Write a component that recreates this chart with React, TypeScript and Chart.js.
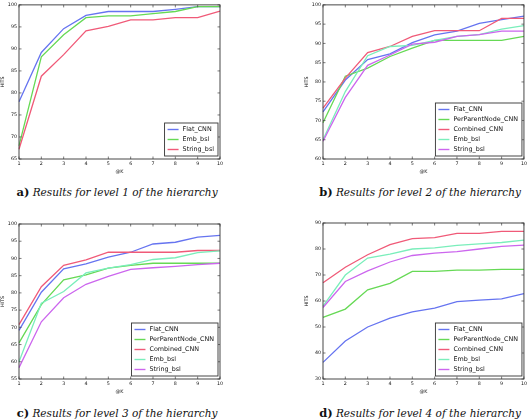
import React, { useEffect, useRef } from "react";
import { Chart, registerables } from "chart.js";
Chart.register(...registerables);

const kValues = ["1", "2", "3", "4", "5", "6", "7", "8", "9", "10"];

// Level 1
const l1Flat = [78.0, 89.2, 94.6, 97.6, 98.5, 98.5, 98.5, 99.0, 99.6, 99.6];
const l1Emb = [68.0, 88.2, 93.2, 97.1, 97.5, 97.5, 98.0, 98.5, 99.6, 99.6];
const l1Str = [67.2, 83.8, 88.7, 94.1, 95.1, 96.6, 96.6, 97.1, 97.1, 98.6];

// Level 2
const l2Flat = [72.2, 80.5, 85.8, 87.3, 90.2, 92.2, 93.2, 95.2, 96.2, 97.1];
const l2Ppn = [69.4, 81.5, 83.6, 86.6, 88.8, 90.8, 90.8, 90.8, 90.8, 91.8];
const l2Comb = [73.2, 81.0, 87.6, 89.2, 91.8, 93.3, 93.3, 93.3, 96.5, 96.5];
const l2Emb = [65.0, 77.5, 86.8, 89.2, 89.5, 90.8, 91.8, 92.3, 93.7, 94.6];
const l2Str = [64.6, 76.0, 84.3, 87.0, 89.8, 90.3, 91.8, 92.3, 93.2, 93.2];

// Level 3
const l3Flat = [69.1, 80.2, 87.0, 88.4, 90.4, 91.8, 94.2, 94.7, 96.2, 96.7];
const l3Ppn = [65.5, 76.6, 83.8, 85.2, 87.2, 88.0, 88.6, 88.6, 88.6, 88.6];
const l3Comb = [70.8, 81.8, 88.0, 89.6, 91.8, 91.8, 91.8, 91.8, 92.3, 92.3];
const l3Emb = [60.0, 77.0, 80.4, 85.8, 87.2, 88.2, 89.7, 90.2, 91.7, 92.2];
const l3Str = [58.3, 71.6, 78.6, 82.5, 84.8, 86.8, 87.3, 87.7, 88.2, 88.6];

// Level 4
const l4Flat = [36.4, 44.6, 50.0, 53.4, 55.8, 57.3, 59.8, 60.3, 60.8, 62.8];
const l4Ppn = [53.7, 56.9, 64.3, 66.8, 71.4, 71.4, 71.9, 71.9, 72.2, 72.2];
const l4Comb = [67.0, 73.0, 77.8, 81.7, 84.0, 84.4, 86.0, 86.0, 86.8, 86.8];
const l4Emb = [58.0, 70.0, 76.5, 78.0, 80.0, 80.4, 81.4, 82.0, 82.5, 83.4];
const l4Str = [57.5, 67.5, 71.6, 75.0, 77.5, 78.4, 79.0, 80.0, 81.0, 81.5];

const C_FLAT = "#6674f0";
const C_PPN = "#66d955";
const C_COMB = "#f05a78";
const C_EMB = "#7aeebb";
const C_STR = "#cc66ee";

type Series = { label: string; color: string; data: number[] };

type Panel = {
  letter: string;
  level: string;
  series: Series[];
  yMin: number;
  yMax: number;
  yStep: number;
  left: number;
  top: number;
  width: number;
  height: number;
  padLeft: number;
  padTop: number;
  plotBottom: number;
  captionCx: number;
  captionCy: number;
};

const FONT = "'DejaVu Sans', sans-serif";

const panels: Panel[] = [
  {
    letter: "a)", level: "1",
    series: [
      { label: "Flat_CNN", color: C_FLAT, data: l1Flat },
      { label: "Emb_bsl", color: C_PPN, data: l1Emb },
      { label: "String_bsl", color: C_COMB, data: l1Str },
    ],
    yMin: 65, yMax: 100, yStep: 5,
    left: 0, top: 0, width: 264, height: 176, padLeft: 0, padTop: 3, plotBottom: 159,
    captionCx: 117, captionCy: 192,
  },
  {
    letter: "b)", level: "2",
    series: [
      { label: "Flat_CNN", color: C_FLAT, data: l2Flat },
      { label: "PerParentNode_CNN", color: C_PPN, data: l2Ppn },
      { label: "Combined_CNN", color: C_COMB, data: l2Comb },
      { label: "Emb_bsl", color: C_EMB, data: l2Emb },
      { label: "String_bsl", color: C_STR, data: l2Str },
    ],
    yMin: 60, yMax: 100, yStep: 5,
    left: 264, top: 0, width: 265, height: 176, padLeft: 40, padTop: 3, plotBottom: 159,
    captionCx: 420, captionCy: 192,
  },
  {
    letter: "c)", level: "3",
    series: [
      { label: "Flat_CNN", color: C_FLAT, data: l3Flat },
      { label: "PerParentNode_CNN", color: C_PPN, data: l3Ppn },
      { label: "Combined_CNN", color: C_COMB, data: l3Comb },
      { label: "Emb_bsl", color: C_EMB, data: l3Emb },
      { label: "String_bsl", color: C_STR, data: l3Str },
    ],
    yMin: 55, yMax: 100, yStep: 5,
    left: 0, top: 210, width: 264, height: 186, padLeft: 0, padTop: 14, plotBottom: 169,
    captionCx: 117, captionCy: 413,
  },
  {
    letter: "d)", level: "4",
    series: [
      { label: "Flat_CNN", color: C_FLAT, data: l4Flat },
      { label: "PerParentNode_CNN", color: C_PPN, data: l4Ppn },
      { label: "Combined_CNN", color: C_COMB, data: l4Comb },
      { label: "Emb_bsl", color: C_EMB, data: l4Emb },
      { label: "String_bsl", color: C_STR, data: l4Str },
    ],
    yMin: 30, yMax: 90, yStep: 10,
    left: 264, top: 210, width: 265, height: 186, padLeft: 40, padTop: 13, plotBottom: 169,
    captionCx: 420, captionCy: 413,
  },
];

const framePlugin = {
  id: "frameTicks",
  afterDraw(chart: any) {
    const { ctx, chartArea } = chart;
    const { left, right, top, bottom } = chartArea;
    ctx.save();
    ctx.strokeStyle = "#444";
    ctx.lineWidth = 0.7;
    const xs = chart.scales.x;
    const ys = chart.scales.y;
    const tl = 2.5;
    ctx.beginPath();
    xs.ticks.forEach((_t: any, i: number) => {
      const px = xs.getPixelForTick(i);
      ctx.moveTo(px, bottom);
      ctx.lineTo(px, bottom - tl);
      ctx.moveTo(px, top);
      ctx.lineTo(px, top + tl);
    });
    ys.ticks.forEach((_t: any, i: number) => {
      const py = ys.getPixelForTick(i);
      ctx.moveTo(left, py);
      ctx.lineTo(left + tl, py);
      ctx.moveTo(right, py);
      ctx.lineTo(right - tl, py);
    });
    ctx.stroke();
    ctx.lineWidth = 0.9;
    ctx.strokeStyle = "#333";
    ctx.strokeRect(left, top, right - left, bottom - top);

    // legend box
    const ds = chart.data.datasets;
    const fs = 6.4;
    ctx.font = `${fs}px ${FONT}`;
    let maxW = 0;
    ds.forEach((d: any) => {
      maxW = Math.max(maxW, ctx.measureText(d.label).width);
    });
    const rowH = 10;
    const pad = 3;
    const lineLen = 11;
    const gap = 4;
    const boxW = pad + lineLen + gap + maxW + 4;
    const boxH = ds.length * rowH + 3;
    const bx = right - 2 - boxW;
    const by = bottom - 3 - boxH;
    ctx.fillStyle = "#fff";
    ctx.fillRect(bx, by, boxW, boxH);
    ctx.strokeStyle = "#333";
    ctx.lineWidth = 0.9;
    ctx.strokeRect(bx, by, boxW, boxH);
    ctx.textBaseline = "middle";
    ctx.textAlign = "left";
    ds.forEach((d: any, i: number) => {
      const cy = by + 1.5 + rowH * (i + 0.5);
      ctx.strokeStyle = d.borderColor;
      ctx.lineWidth = 1.4;
      ctx.beginPath();
      ctx.moveTo(bx + pad, cy);
      ctx.lineTo(bx + pad + lineLen, cy);
      ctx.stroke();
      ctx.fillStyle = "#111";
      ctx.fillText(d.label, bx + pad + lineLen + gap, cy + 0.3);
    });
    ctx.restore();
  },
};

function PanelChart({ p }: { p: Panel }) {
  const ref = useRef<HTMLCanvasElement | null>(null);
  useEffect(() => {
    if (!ref.current) return;
    const chart = new Chart(ref.current, {
      type: "line",
      data: {
        labels: kValues,
        datasets: p.series.map((s, i) => ({
          label: s.label,
          data: s.data,
          borderColor: s.color,
          backgroundColor: s.color,
          borderWidth: 1.3,
          pointRadius: 0,
          tension: 0,
          fill: false,
          order: -i,
        })),
      },
      options: {
        animation: false,
        responsive: false,
        maintainAspectRatio: false,
        events: [],
        layout: {
          padding: { left: p.padLeft, right: p.width - p.padLeft - 19 - 201, top: p.padTop, bottom: 0 },
        },
        plugins: {
          legend: { display: false },
          tooltip: { enabled: false },
        },
        scales: {
          x: {
            offset: false,
            grid: { display: false, drawTicks: false },
            border: { display: false },
            ticks: {
              color: "#111",
              font: { size: 4.8, family: FONT },
              padding: 2,
              maxRotation: 0,
              autoSkip: false,
            },
            title: {
              display: true,
              text: "@K",
              color: "#111",
              font: { size: 4.8, family: FONT },
              padding: { top: 2, bottom: 1 },
            },
            afterFit: (s: any) => {
              s.height = p.height - p.plotBottom;
            },
          },
          y: {
            min: p.yMin,
            max: p.yMax,
            grid: { display: false, drawTicks: false },
            border: { display: false },
            ticks: {
              stepSize: p.yStep,
              color: "#111",
              font: { size: 4.8, family: FONT },
              padding: 2,
            },
            title: {
              display: true,
              text: "HITS",
              color: "#111",
              font: { size: 4.8, family: FONT },
              padding: { top: 0, bottom: 0 },
            },
            afterFit: (s: any) => {
              s.width = 19;
            },
          },
        },
      },
      plugins: [framePlugin],
    });
    return () => chart.destroy();
  }, [p]);
  return (
    <canvas
      ref={ref}
      width={p.width}
      height={p.height}
      style={{ position: "absolute", left: p.left, top: p.top, width: p.width, height: p.height }}
    />
  );
}

export default function App() {
  return (
    <div style={{ position: "absolute", left: 0, top: 0, width: 529, height: 420, background: "#fff", overflow: "hidden" }}>
      {panels.map((p) => (
        <React.Fragment key={p.letter}>
          <PanelChart p={p} />
          <div
            style={{
              position: "absolute",
              left: p.captionCx - 130,
              width: 260,
              top: p.captionCy - 8,
              height: 16,
              lineHeight: "16px",
              textAlign: "center",
              fontFamily: "'DejaVu Serif', serif",
              fontSize: 10.5,
              color: "#111",
              whiteSpace: "nowrap",
            }}
          >
            <b style={{ fontStyle: "normal", fontSize: 11.5 }}>{p.letter}</b>{" "}
            <i>Results for level {p.level} of the hierarchy</i>
          </div>
        </React.Fragment>
      ))}
    </div>
  );
}
